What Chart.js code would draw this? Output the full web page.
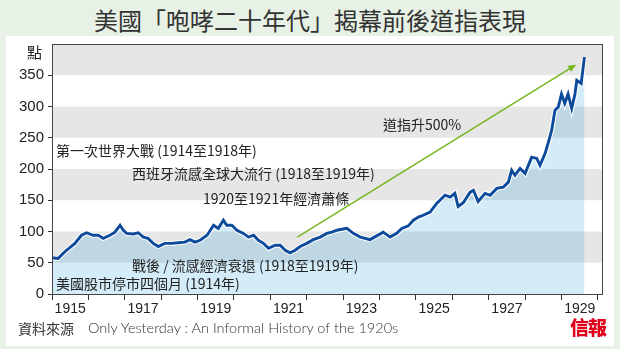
<!DOCTYPE html>
<html>
<head>
<meta charset="utf-8">
<script src="https://cdn.jsdelivr.net/npm/chart.js@4.4.1/dist/chart.umd.min.js"></script>
<style>
body { margin: 0; width: 620px; height: 349px; background: #e7f1e5; position: relative; overflow: hidden;
       font-family: "Noto Sans CJK TC", sans-serif; color: #222; }
#panel { position: absolute; left: 6px; top: 36px; width: 608px; height: 310px; background: #fff; }
#title { position: absolute; left: 0; top: 4px; width: 620px; text-align: center; font-size: 24px; line-height: 32px;
         color: #333; font-weight: 400; }
#chart { position: absolute; left: 0; top: 0; }
.note { position: absolute; font-size: 14px; line-height: 18px; white-space: nowrap; color: #222; }
#unit { position: absolute; left: 27px; top: 42px; font-size: 15px; line-height: 20px; color: #222; }
#source { position: absolute; left: 18px; top: 319px; font-size: 14px; line-height: 18px; color: #333; }
#book { position: absolute; left: 88px; top: 319px; font-size: 14.5px; line-height: 18px; color: #333;
        font-family: "Lato", sans-serif; font-weight: 300; }
#logo { position: absolute; left: 570px; top: 315px; font-size: 19px; line-height: 24px; color: #e0001b;
        font-family: "Noto Sans CJK TC", serif; font-weight: 900; letter-spacing: -1px; }
</style>
</head>
<body>
<div id="panel"></div>
<div id="title">美國「咆哮二十年代」揭幕前後道指表現</div>
<canvas id="chart" width="620" height="349"></canvas>
<div id="unit">點</div>
<div class="note" style="left:56px;top:141px">第一次世界大戰 (1914至1918年)</div>
<div class="note" style="left:132px;top:164px">西班牙流感全球大流行 (1918至1919年)</div>
<div class="note" style="left:203px;top:189px">1920至1921年經濟蕭條</div>
<div class="note" style="left:383px;top:115px">道指升500%</div>
<div class="note" style="left:132px;top:256px">戰後 / 流感經濟衰退 (1918至1919年)</div>
<div class="note" style="left:56px;top:274px">美國股市停市四個月 (1914年)</div>
<div id="source">資料來源</div>
<div id="book">Only Yesterday : An Informal History of the 1920s</div>
<div id="logo">信報</div>

<script>
// Dow Jones index (x in fractional years)
const years = [1914.99, 1915.17, 1915.36, 1915.63, 1915.81, 1915.95, 1916.13, 1916.27, 1916.41, 1916.59,
  1916.73, 1916.87, 1916.96, 1917.05, 1917.23, 1917.37, 1917.51, 1917.64, 1917.78, 1917.92,
  1918.10, 1918.28, 1918.47, 1918.65, 1918.79, 1918.93, 1919.07, 1919.26, 1919.44, 1919.57,
  1919.71, 1919.80, 1919.94, 1920.08, 1920.26, 1920.40, 1920.54, 1920.67, 1920.81, 1920.95,
  1921.13, 1921.27, 1921.41, 1921.54, 1921.68, 1921.82, 1922.00, 1922.18, 1922.37, 1922.55,
  1922.69, 1922.83, 1923.10, 1923.28, 1923.47, 1923.74, 1923.92, 1924.10, 1924.29, 1924.47,
  1924.61, 1924.79, 1924.93, 1925.07, 1925.20, 1925.39, 1925.57, 1925.80, 1925.94, 1926.07,
  1926.16, 1926.30, 1926.49, 1926.58, 1926.71, 1926.90, 1927.04, 1927.22, 1927.40, 1927.54,
  1927.63, 1927.72, 1927.86, 1928.00, 1928.18, 1928.32, 1928.41, 1928.55, 1928.64, 1928.73,
  1928.82, 1928.91, 1929.00, 1929.09, 1929.18, 1929.28, 1929.37, 1929.42, 1929.54, 1929.63];
const dowPoints = [58, 57, 68, 81, 94, 98, 94, 94, 89, 94,
  99, 110, 102, 97, 96, 98, 91, 89, 81, 76,
  81, 81, 82, 83, 87, 83, 86, 94, 110, 105,
  118, 110, 110, 102, 97, 91, 94, 86, 81, 73,
  78, 78, 70, 66, 70, 76, 81, 87, 91, 97,
  99, 102, 105, 97, 91, 87, 93, 99, 91, 97,
  105, 109, 118, 123, 126, 131, 145, 158, 155, 161,
  140, 146, 163, 166, 148, 161, 158, 169, 171, 179,
  198, 190, 201, 193, 219, 217, 206, 225, 243, 262,
  294, 299, 320, 305, 320, 297, 320, 342, 337, 379];

const yTicks = [0, 50, 100, 150, 200, 250, 300, 350];
const xLabelYears = [1915, 1917, 1919, 1921, 1923, 1925, 1927, 1929];
const grayBands = [[50, 100], [150, 200], [250, 300], [350, 400]];
const arrowFrom = [1921.74, 91];
const arrowTo = [1929.40, 367];

const points = years.map((x, i) => ({ x: x, y: dowPoints[i] }));

const bandsPlugin = {
  id: 'bands',
  beforeDatasetsDraw(chart) {
    const { ctx, chartArea, scales } = chart;
    ctx.save();
    ctx.fillStyle = '#e6e6e6';
    grayBands.forEach(b => {
      const top = scales.y.getPixelForValue(b[1]);
      const bottom = scales.y.getPixelForValue(b[0]);
      ctx.fillRect(chartArea.left, top, chartArea.right - chartArea.left, bottom - top);
    });
    ctx.restore();
  }
};

const framePlugin = {
  id: 'frame',
  afterDatasetsDraw(chart) {
    const { ctx, chartArea, scales } = chart;
    ctx.save();
    // green arrow
    const x1 = scales.x.getPixelForValue(arrowFrom[0]), y1 = scales.y.getPixelForValue(arrowFrom[1]);
    const x2 = scales.x.getPixelForValue(arrowTo[0]), y2 = scales.y.getPixelForValue(arrowTo[1]);
    const ang = Math.atan2(y2 - y1, x2 - x1);
    ctx.strokeStyle = '#78b51e';
    ctx.fillStyle = '#78b51e';
    ctx.lineWidth = 1.5;
    ctx.beginPath();
    ctx.moveTo(x1, y1);
    ctx.lineTo(x2 - 6 * Math.cos(ang), y2 - 6 * Math.sin(ang));
    ctx.stroke();
    ctx.beginPath();
    ctx.moveTo(x2, y2);
    ctx.lineTo(x2 - 8 * Math.cos(ang) + 3.5 * Math.sin(ang), y2 - 8 * Math.sin(ang) - 3.5 * Math.cos(ang));
    ctx.lineTo(x2 - 8 * Math.cos(ang) - 3.5 * Math.sin(ang), y2 - 8 * Math.sin(ang) + 3.5 * Math.cos(ang));
    ctx.closePath();
    ctx.fill();
    // plot frame
    ctx.strokeStyle = '#444';
    ctx.lineWidth = 1;
    ctx.strokeRect(Math.round(chartArea.left) + 0.5, Math.round(chartArea.top) + 0.5,
      Math.round(chartArea.right - chartArea.left) - 1, Math.round(chartArea.bottom - chartArea.top));
    ctx.restore();
  }
};

const ctx = document.getElementById('chart').getContext('2d');
new Chart(ctx, {
  type: 'line',
  data: {
    datasets: [{
      data: points,
      borderColor: '#0c4a9c',
      borderWidth: 2.9,
      pointRadius: 0,
      fill: false,
      tension: 0,
      order: 1
    }, {
      data: points,
      borderColor: '#ffffff',
      borderWidth: 5,
      pointRadius: 0,
      fill: 'origin',
      backgroundColor: 'rgba(0, 137, 212, 0.17)',
      tension: 0,
      order: 2
    }]
  },
  options: {
    responsive: false,
    animation: false,
    layout: { padding: { left: 0, top: 44, right: 17, bottom: 25 } },
    plugins: { legend: { display: false }, tooltip: { enabled: false } },
    scales: {
      x: {
        type: 'linear',
        min: 1915,
        max: 1930.14,
        afterBuildTicks: scale => {
          const t = [];
          for (let y = 1915; y <= 1930; y++) {
            t.push({ value: y });
            if (y + 0.5 < 1930.14) t.push({ value: y + 0.5 });
          }
          scale.ticks = t;
        },
        afterFit: scale => { scale.height = 30; },
        ticks: {
          autoSkip: false,
          maxRotation: 0,
          padding: 1,
          color: '#222',
          font: { family: 'Liberation Sans', size: 14 },
          callback: v => (v % 1 === 0.5 && xLabelYears.includes(Math.floor(v))) ? String(Math.floor(v)) : ''
        },
        grid: {
          drawOnChartArea: false,
          tickLength: 6,
          tickColor: c => (c.tick && Number.isInteger(c.tick.value)) ? '#333' : 'rgba(0,0,0,0)'
        },
        border: { display: false }
      },
      y: {
        min: 0,
        max: 400,
        afterBuildTicks: scale => { scale.ticks = yTicks.map(v => ({ value: v })); },
        afterFit: scale => { scale.width = 52; },
        ticks: {
          padding: 4,
          color: '#222',
          font: { family: 'Liberation Sans', size: 15 }
        },
        grid: { drawOnChartArea: false, tickLength: 4, tickColor: '#333' },
        border: { display: false }
      }
    }
  },
  plugins: [bandsPlugin, framePlugin]
});
</script>
</body>
</html>
